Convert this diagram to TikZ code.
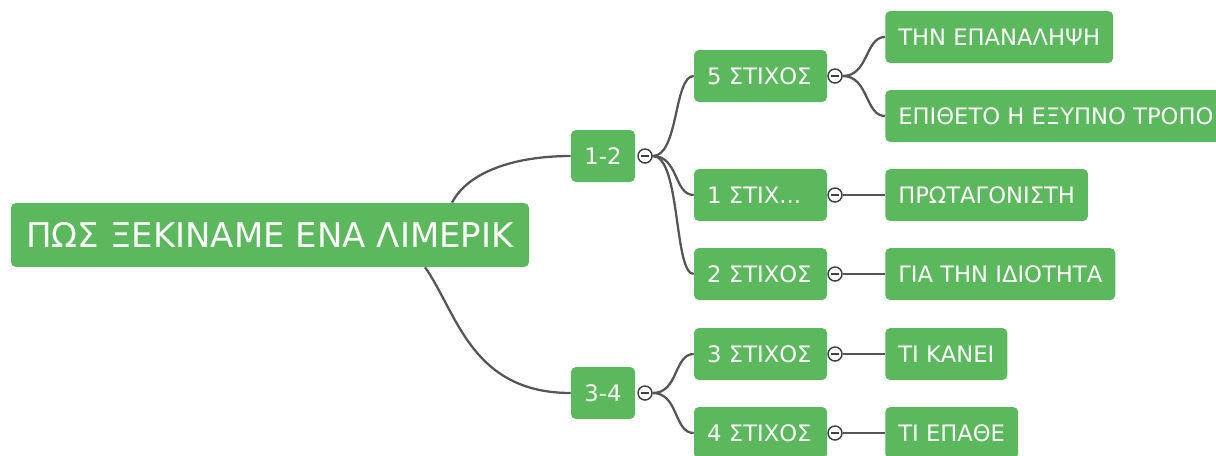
\documentclass[tikz,border=0pt]{standalone}
\usepackage{fontspec}
\setmainfont{DejaVu Sans}
\usetikzlibrary{calc, positioning}

\definecolor{leafgreen}{RGB}{92,184,92}
\definecolor{linkgray}{RGB}{85,85,85}

\tikzset{
    topic/.style={rectangle, rounded corners=3.75pt, fill=leafgreen, text=white,
        inner xsep=9.75pt, inner ysep=0pt, minimum height=39pt,
        text height=12.4pt, text depth=0pt, font=\fontsize{17}{19}\selectfont},
    linebox/.style={topic, text width=80.25pt, align=left},
    rootbox/.style={topic, minimum height=48pt, minimum width=388.5pt,
        text height=18.6pt, font=\fontsize{25.5}{28}\selectfont},
    foldmark/.style={circle, draw=linkgray!75!black, line width=1.1pt, fill=white,
        inner sep=0pt, minimum size=10.5pt,
        path picture={\draw[linkgray!75!black, line width=1pt]
            ([xshift=-2.7pt]path picture bounding box.center) --
            ([xshift=2.7pt]path picture bounding box.center);}},
    branch/.style={draw=linkgray, line width=1.7pt}
}

\begin{document}
\begin{tikzpicture}[x=0.75pt, y=-0.75pt]
    \useasboundingbox (0,0) rectangle (1216,455);

    % root and the two halves
    \node[rootbox] (root) at (270, 235) {ΠΩΣ ΞΕΚΙΝΑΜΕ ΕΝΑ ΛΙΜΕΡΙΚ};
    \node[topic, minimum width=48pt] (g12) at (603, 156) {1-2};
    \node[topic, minimum width=48pt] (g34) at (603, 393) {3-4};

    % lines of the limerick
    \node[linebox] (s5) at (760.5, 76) {5 ΣΤΙΧΟΣ};
    \node[linebox] (s1) at (760.5, 195) {1 ΣΤΙΧ...};
    \node[linebox] (s2) at (760.5, 274) {2 ΣΤΙΧΟΣ};
    \node[linebox] (s3) at (760.5, 354) {3 ΣΤΙΧΟΣ};
    \node[linebox] (s4) at (760.5, 433) {4 ΣΤΙΧΟΣ};

    % contents
    \node[topic, anchor=west] (t1) at (885, 37) {ΤΗΝ ΕΠΑΝΑΛΗΨΗ};
    \node[topic, anchor=west] (t2) at (885, 116) {ΕΠΙΘΕΤΟ Η ΕΞΥΠΝΟ ΤΡΟΠΟ};
    \node[topic, anchor=west] (t3) at (885, 195) {ΠΡΩΤΑΓΟΝΙΣΤΗ};
    \node[topic, anchor=west] (t4) at (885, 274) {ΓΙΑ ΤΗΝ ΙΔΙΟΤΗΤΑ};
    \node[topic, anchor=west] (t5) at (885, 354) {ΤΙ ΚΑΝΕΙ};
    \node[topic, anchor=west] (t6) at (885, 433) {ΤΙ ΕΠΑΘΕ};

    % fold markers
    \node[foldmark] (m12) at (645, 156) {};
    \node[foldmark] (m34) at (645, 393) {};
    \node[foldmark] (m5) at (835, 76) {};
    \node[foldmark] (m1) at (835, 195) {};
    \node[foldmark] (m2) at (835, 274) {};
    \node[foldmark] (m3) at (835, 354) {};
    \node[foldmark] (m4) at (835, 433) {};

    % connectors
    \coordinate (rup) at ($(root.north) + (182, 0)$);
    \coordinate (rdown) at ($(root.south) + (155, 0)$);
    \draw[branch] (rup) .. controls +(16, -31) and +(-56, 0) .. (g12.west);
    \draw[branch] (rdown) .. controls +(32, 45) and +(-100, 0) .. (g34.west);

    \draw[branch] (m12.east) .. controls +(26, 0) and +(-20, 0) .. (s5.west);
    \draw[branch] (m12.east) .. controls +(26, 0) and +(-20, 0) .. (s1.west);
    \draw[branch] (m12.east) .. controls +(28, 0) and +(-20, 0) .. (s2.west);
    \draw[branch] (m34.east) .. controls +(26, 0) and +(-20, 0) .. (s3.west);
    \draw[branch] (m34.east) .. controls +(26, 0) and +(-20, 0) .. (s4.west);

    \draw[branch] (m5.east) .. controls +(26, 0) and +(-20, 0) .. (t1.west);
    \draw[branch] (m5.east) .. controls +(26, 0) and +(-20, 0) .. (t2.west);
    \draw[branch] (m1) -- (t3);
    \draw[branch] (m2) -- (t4);
    \draw[branch] (m3) -- (t5);
    \draw[branch] (m4) -- (t6);
\end{tikzpicture}
\end{document}
